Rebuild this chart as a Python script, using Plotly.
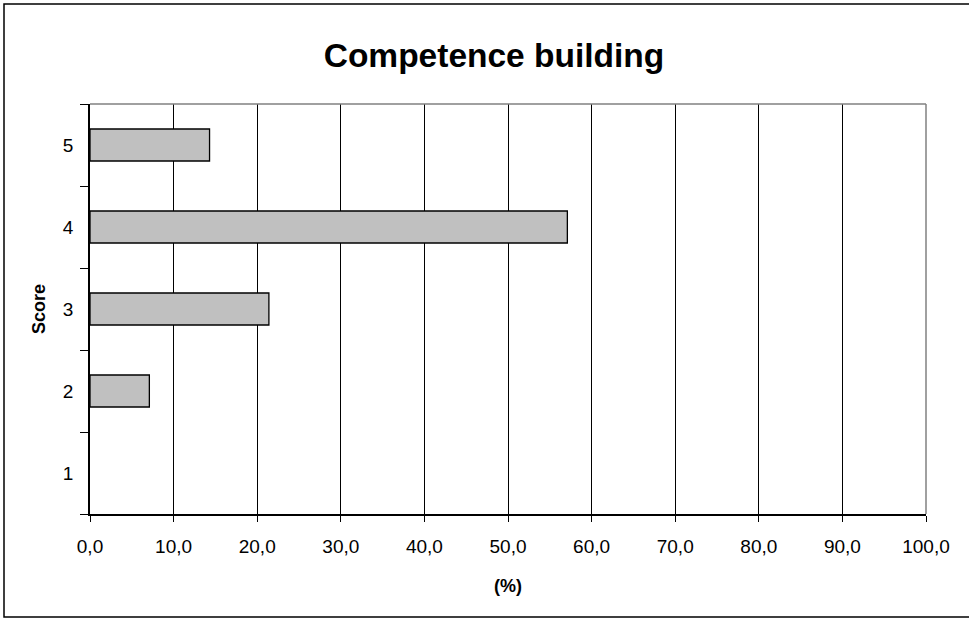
import plotly.graph_objects as go

scores = [1, 2, 3, 4, 5]
percent = [0.0, 7.1, 21.4, 57.1, 14.3]
x_ticks = [0, 10, 20, 30, 40, 50, 60, 70, 80, 90, 100]

W, H = 969, 619
L, R, T, B = 90, 43, 104, 105

fig = go.Figure(go.Bar(
    x=percent, y=scores, orientation="h",
    marker=dict(color="#C0C0C0",
                line=dict(color="#000000", width=[0 if v == 0 else 1.3 for v in percent])),
    width=0.39,
))

fig.update_layout(
    width=W, height=H,
    margin=dict(l=L, r=R, t=T, b=B, autoexpand=False),
    paper_bgcolor="white", plot_bgcolor="white",
    font=dict(family="Liberation Sans, Arial, sans-serif", size=19, color="#000"),
    separators=",.",
    showlegend=False,
    title=dict(text="<b>Competence building</b>", x=494 / W, xref="container", xanchor="center",
               y=1 - 55 / H, yref="container", yanchor="middle",
               font=dict(size=33.5, color="#000")),
    bargap=0.61,
)

fig.update_xaxes(
    range=[0, 100], tickvals=x_ticks, tickformat=".1f",
    ticks="outside", ticklen=6, tickcolor="#000", tickwidth=1,
    showgrid=True, gridcolor="#000", gridwidth=1,
    showline=True, linecolor="#000", linewidth=1.5,
    zeroline=False,
    title=dict(text="<b>(%)</b>", font=dict(size=18), standoff=24),
    ticklabelstandoff=8,
)
fig.update_yaxes(
    range=[0.5, 5.5], tickvals=scores, ticks="",
    showgrid=False, zeroline=False,
    showline=True, linecolor="#000", linewidth=1.5,
    ticklabelstandoff=11,
    minor=dict(tickvals=[0.5, 1.5, 2.5, 3.5, 4.5, 5.5], ticks="outside", ticklen=8,
               tickcolor="#000", tickwidth=1, showgrid=False),
    title=dict(text="<b>Score</b>", font=dict(size=18), standoff=13),
)

pw = W - L - R
ph = H - T - B
# plot area top/right border (gray)
fig.add_shape(type="line", xref="paper", yref="paper", x0=0, x1=1, y0=1, y1=1,
              line=dict(color="#808080", width=1.5))
fig.add_shape(type="line", xref="paper", yref="paper", x0=1, x1=1, y0=0, y1=1,
              line=dict(color="#808080", width=1.5))
# outer chart frame
fig.add_shape(type="rect", xref="paper", yref="paper",
              x0=(4 - L) / pw, x1=(975 - L) / pw,
              y0=(H - B - 617) / ph, y1=(H - B - 4) / ph,
              line=dict(color="#000", width=1.5), layer="below")

fig.write_html("out.html", config={"displayModeBar": False},
               post_script="document.body.style.margin='0';document.body.style.overflow='hidden';")
